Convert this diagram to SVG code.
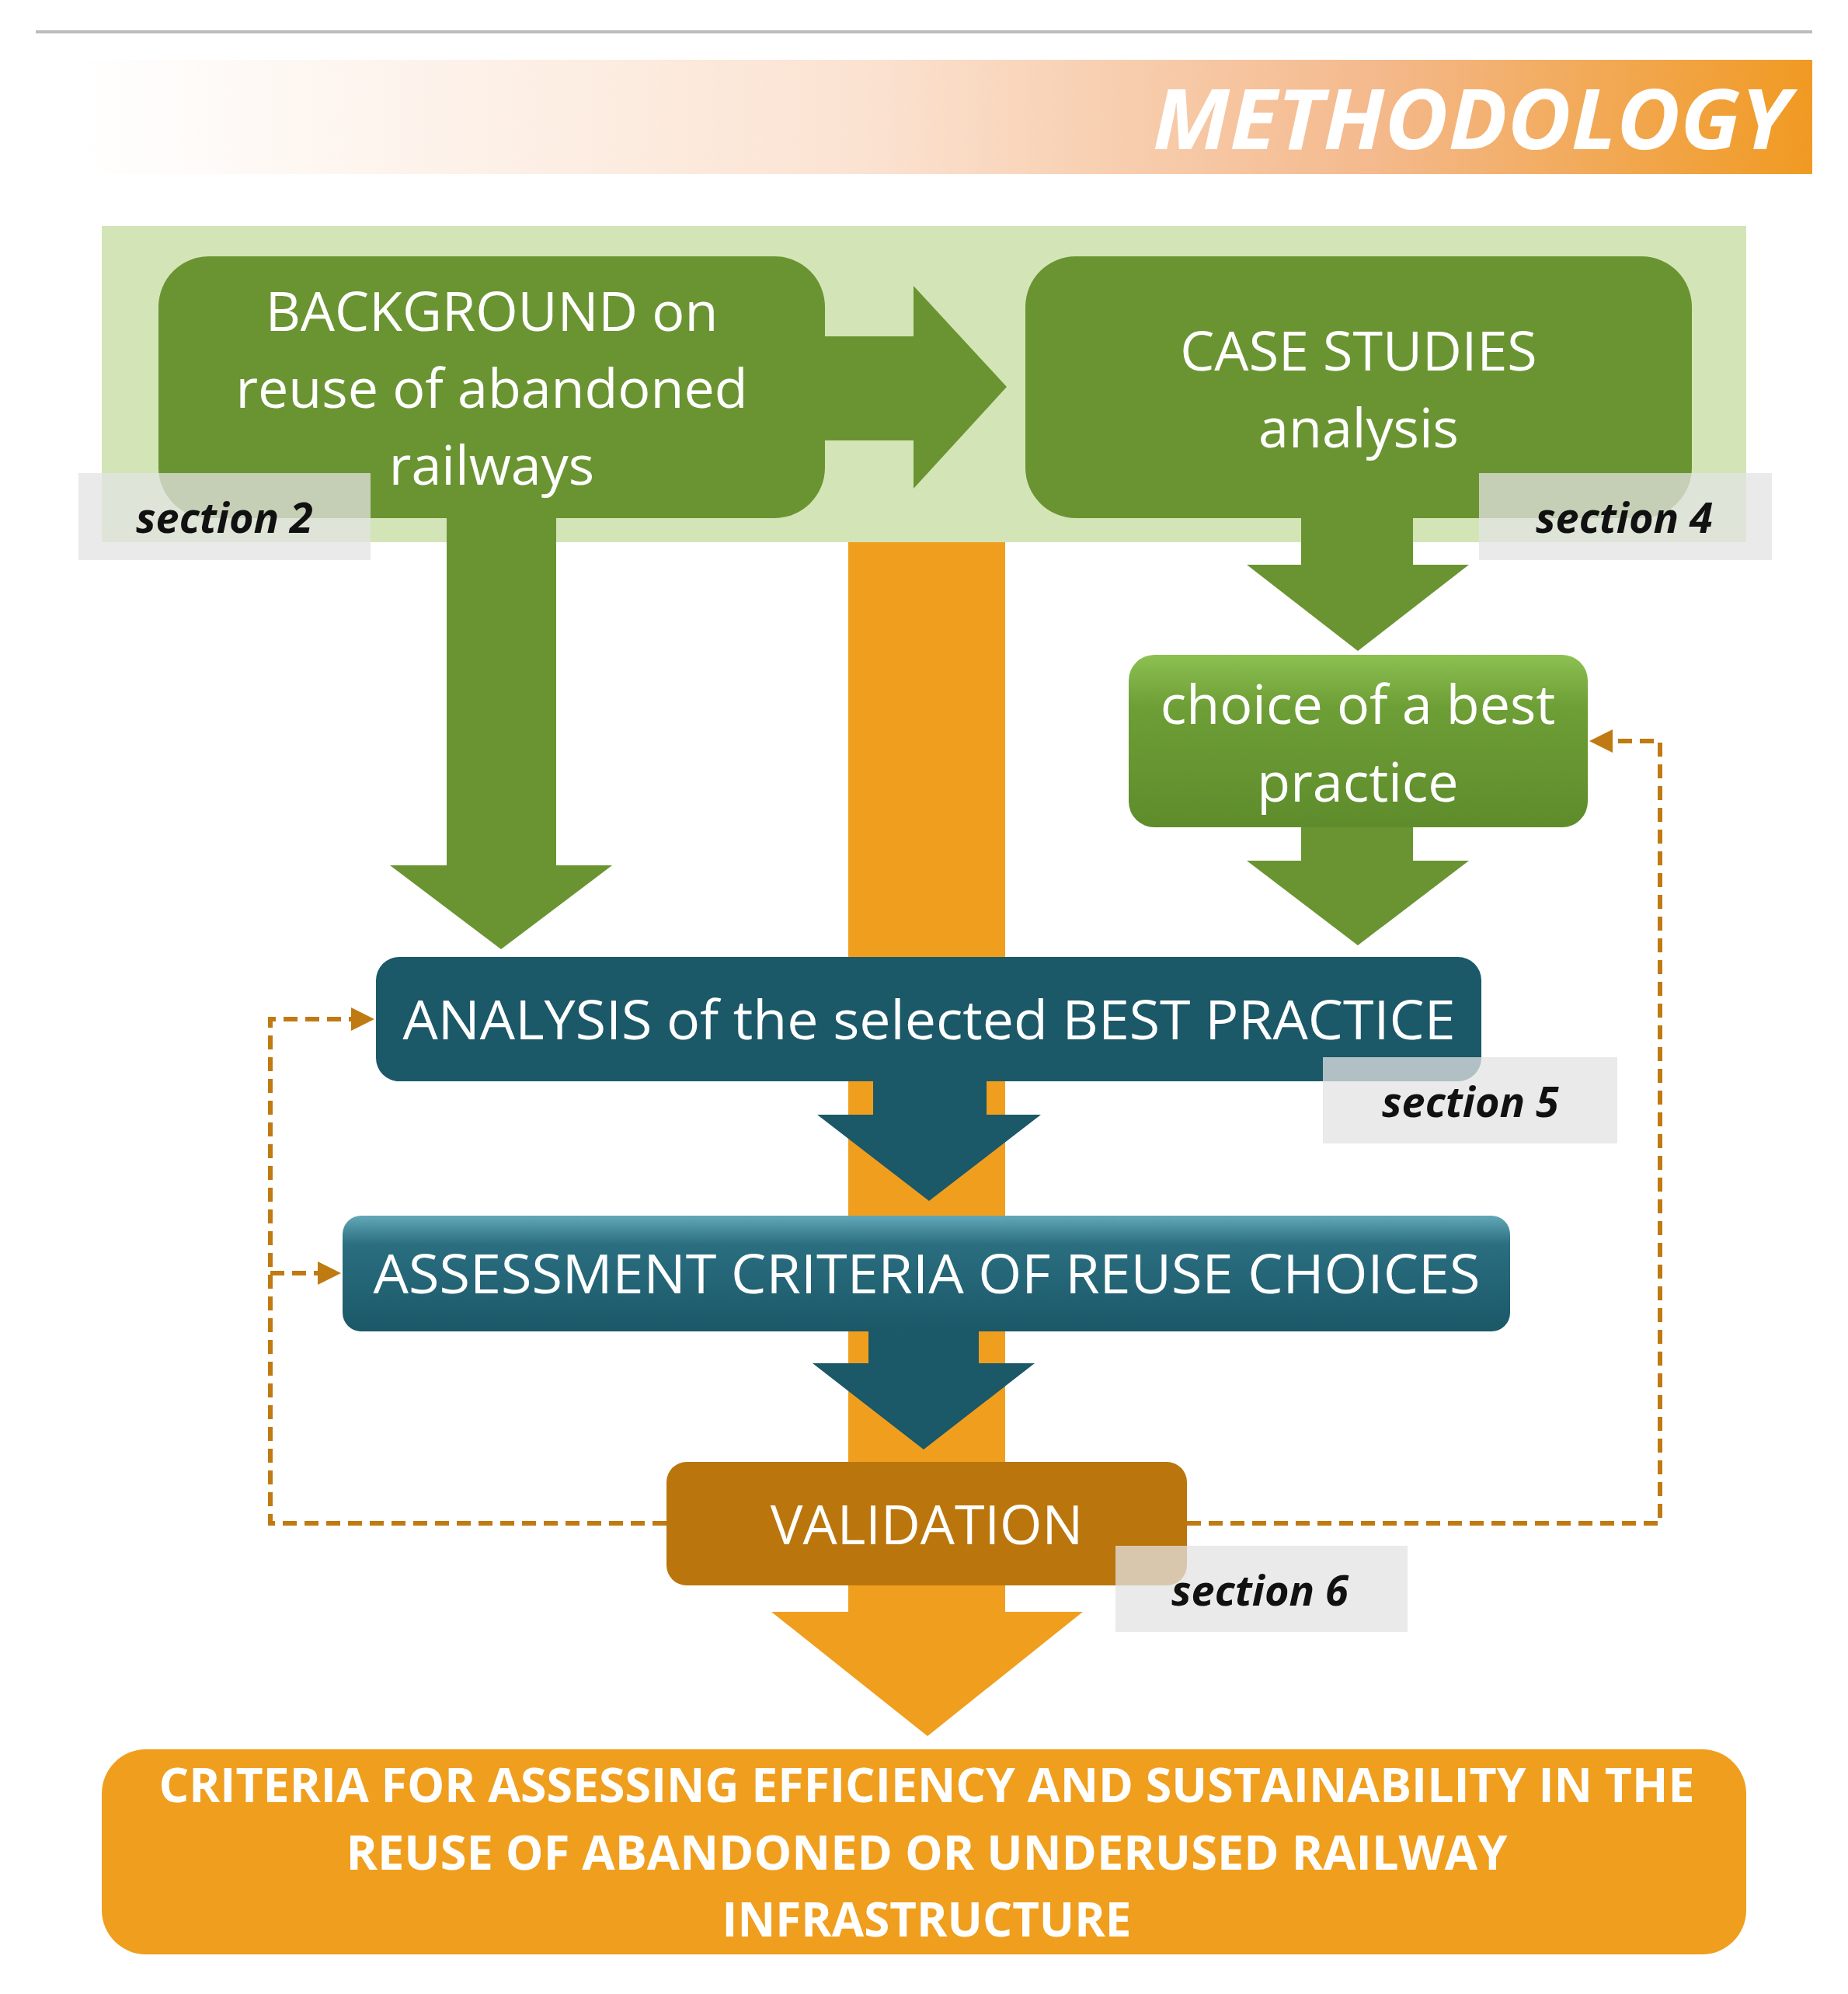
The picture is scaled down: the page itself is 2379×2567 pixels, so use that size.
<svg xmlns="http://www.w3.org/2000/svg" width="2379" height="2567" viewBox="0 0 2379 2567">
<defs>
<linearGradient id="banner" x1="0" y1="0" x2="1" y2="0">
<stop offset="0" stop-color="#FFFFFF"/><stop offset="0.45" stop-color="#FBE3D2"/><stop offset="0.75" stop-color="#F4B98C"/><stop offset="1" stop-color="#F09A22"/>
</linearGradient>
<linearGradient id="gchoice" x1="0" y1="0" x2="0" y2="1">
<stop offset="0" stop-color="#8CC152"/><stop offset="0.3" stop-color="#6E9E36"/><stop offset="1" stop-color="#5E8C2C"/>
</linearGradient>
<linearGradient id="gassess" x1="0" y1="0" x2="0" y2="1">
<stop offset="0" stop-color="#62A8B8"/><stop offset="0.25" stop-color="#2A6E80"/><stop offset="1" stop-color="#1B5868"/>
</linearGradient>
<marker id="arr" markerWidth="5" markerHeight="5" refX="4" refY="2.5" orient="auto" markerUnits="strokeWidth">
<path d="M0,0 L5,2.5 L0,5 z" fill="#C07A12"/>
</marker>
<style>
.t{font-family:"Open Sans","Liberation Sans",sans-serif;fill:#fff;text-anchor:middle}
.s{font-family:"Open Sans","Liberation Sans",sans-serif;font-weight:bold;font-style:italic;font-size:54px;fill:#111}
.lab{fill:#E3E3E3;fill-opacity:0.75}
.d{fill:none;stroke:#C07A12;stroke-width:6;stroke-dasharray:18 10}
</style>
</defs>
<line x1="46" y1="41" x2="2333" y2="41" stroke="#BDBDBD" stroke-width="4"/>
<rect x="98" y="77" width="2235" height="147" fill="url(#banner)"/>
<text x="2304" y="192" font-family="Open Sans, Liberation Sans, sans-serif" font-weight="bold" font-style="italic" font-size="108" fill="#fff" text-anchor="end" textLength="820" lengthAdjust="spacingAndGlyphs">METHODOLOGY</text>
<rect x="131" y="291" width="2117" height="407" fill="#D3E5B7"/>
<g id="connectors">
<rect x="1092" y="698" width="202" height="1377" fill="#F09E1E"/>
<polygon points="993,2075 1394,2075 1194,2235" fill="#F09E1E"/>
<polygon points="1062,433 1176,433 1176,368 1296,498 1176,629 1176,567 1062,567" fill="#6A9432"/>
<polygon points="575,667 716,667 716,1114 788,1114 645,1222 502,1114 575,1114" fill="#6A9432"/>
<polygon points="1675,667 1819,667 1819,727 1891,727 1748,838 1605,727 1675,727" fill="#6A9432"/>
<polygon points="1675,1065 1819,1065 1819,1108 1891,1108 1748,1217 1605,1108 1675,1108" fill="#6A9432"/>
<polygon points="1124,1392 1270,1392 1270,1435 1340,1435 1196,1546 1052,1435 1124,1435" fill="#1B5868"/>
<polygon points="1118,1714 1260,1714 1260,1755 1332,1755 1189,1866 1046,1755 1118,1755" fill="#1B5868"/>
<polyline class="d" points="858,1961 348,1961 348,1312 476,1312" marker-end="url(#arr)"/>
<polyline class="d" points="348,1639 433,1639" marker-end="url(#arr)"/>
<polyline class="d" points="1528,1961 2137,1961 2137,954 2052,954" marker-end="url(#arr)"/>
</g>
<g id="background">
<rect x="204" y="330" width="858" height="337" rx="65" fill="#6A9432"/>
<text class="t" font-size="70" x="633" y="426">BACKGROUND on</text>
<text class="t" font-size="70" x="633" y="525">reuse of abandoned</text>
<text class="t" font-size="70" x="633" y="624">railways</text>
</g>
<g id="casestudies">
<rect x="1320" y="330" width="858" height="337" rx="65" fill="#6A9432"/>
<text class="t" font-size="70" x="1749" y="477">CASE STUDIES</text>
<text class="t" font-size="70" x="1749" y="576">analysis</text>
</g>
<g id="section2"><rect class="lab" x="101" y="609" width="376" height="112"/><text class="s" x="175" y="686">section 2</text></g>
<g id="section4"><rect class="lab" x="1904" y="609" width="377" height="112"/><text class="s" x="1977" y="686">section 4</text></g>
<g id="choice">
<rect x="1453" y="843" width="591" height="222" rx="33" fill="url(#gchoice)"/>
<text class="t" font-size="70" x="1748" y="932">choice of a best</text>
<text class="t" font-size="70" x="1748" y="1032">practice</text>
</g>
<g id="analysis">
<rect x="484" y="1232" width="1423" height="160" rx="30" fill="#1B5868"/>
<text class="t" font-size="70" x="1196" y="1338" textLength="1355" lengthAdjust="spacingAndGlyphs">ANALYSIS of the selected BEST PRACTICE</text>
</g>
<g id="section5"><rect class="lab" x="1703" y="1361" width="379" height="111"/><text class="s" x="1779" y="1438">section 5</text></g>
<g id="assessment">
<rect x="441" y="1565" width="1503" height="149" rx="24" fill="url(#gassess)"/>
<text class="t" font-size="70" x="1193" y="1665" textLength="1425" lengthAdjust="spacingAndGlyphs">ASSESSMENT CRITERIA OF REUSE CHOICES</text>
</g>
<g id="validation">
<rect x="858" y="1882" width="670" height="159" rx="26" fill="#BA760C"/>
<text class="t" font-size="70" x="1193" y="1988">VALIDATION</text>
</g>
<g id="section6"><rect class="lab" x="1436" y="1990" width="376" height="111"/><text class="s" x="1508" y="2067">section 6</text></g>
<g id="criteria">
<rect x="131" y="2252" width="2117" height="264" rx="57" fill="#F09E1E"/>
<text class="t" font-weight="bold" font-size="60" x="1193" y="2320" textLength="1977" lengthAdjust="spacingAndGlyphs">CRITERIA FOR ASSESSING EFFICIENCY AND SUSTAINABILITY IN THE</text>
<text class="t" font-weight="bold" font-size="60" x="1193" y="2407" textLength="1495" lengthAdjust="spacingAndGlyphs">REUSE OF ABANDONED OR UNDERUSED RAILWAY</text>
<text class="t" font-weight="bold" font-size="60" x="1193" y="2493">INFRASTRUCTURE</text>
</g>
</svg>
